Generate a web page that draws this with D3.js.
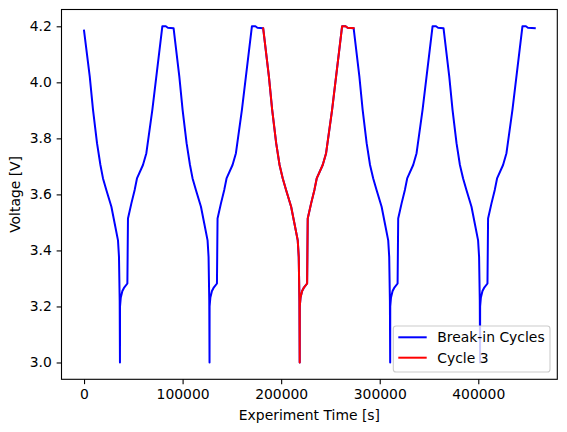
<!DOCTYPE html>
<html>
<head>
<meta charset="utf-8">
<script src="https://cdn.jsdelivr.net/npm/d3@7"></script>
<style>
  html, body { margin: 0; padding: 0; background: #fff; }
  svg { display: block; font-family: "DejaVu Sans", sans-serif; }
</style>
</head>
<body>
<div id="chart"></div>
<script>
// cycle data: time [s] and voltage [V]
const cycle1T = [0, 5780, 9120, 13170, 16620, 19250, 22700, 27760, 31100, 34450, 35460, 36170, 36450, 36520, 37300, 38900, 40500, 43970, 44580, 48030, 51370, 53700, 59780, 63220, 69300, 79440, 83000, 85000, 90880];
const cycle1V = [4.185, 4.021, 3.902, 3.783, 3.705, 3.657, 3.615, 3.556, 3.496, 3.436, 3.377, 3.222, 3.0, 3.200, 3.232, 3.255, 3.266, 3.282, 3.514, 3.568, 3.616, 3.657, 3.705, 3.747, 3.902, 4.2, 4.2, 4.195, 4.193];

const cycle2T = [90880, 96660, 100000, 104050, 107500, 110130, 113580, 118640, 121980, 125330, 126340, 127050, 127330, 127400, 128180, 129780, 131380, 134850, 135460, 138910, 142250, 144580, 150660, 154100, 160180, 170320, 173880, 175880, 181770];
const cycle2V = [4.193, 4.021, 3.902, 3.783, 3.705, 3.657, 3.615, 3.556, 3.496, 3.436, 3.377, 3.222, 3.0, 3.200, 3.232, 3.255, 3.266, 3.282, 3.514, 3.568, 3.616, 3.657, 3.705, 3.747, 3.902, 4.2, 4.2, 4.195, 4.193];

const cycle3T = [181770, 187550, 190890, 194940, 198390, 201620, 205070, 210130, 213470, 216820, 217830, 218540, 218820, 218890, 219670, 221270, 222870, 226340, 226950, 230400, 233740, 236070, 242150, 245590, 251670, 261810, 265370, 267370, 273560];
const cycle3V = [4.193, 4.021, 3.902, 3.783, 3.705, 3.657, 3.615, 3.556, 3.496, 3.436, 3.377, 3.222, 3.0, 3.200, 3.232, 3.255, 3.266, 3.282, 3.514, 3.568, 3.616, 3.657, 3.705, 3.747, 3.902, 4.2, 4.2, 4.195, 4.193];

const cycle4T = [273560, 279340, 282680, 286730, 290180, 293410, 296860, 301920, 305260, 308610, 309620, 310330, 310610, 310680, 311460, 313060, 314660, 318130, 318740, 322190, 325530, 327860, 333940, 337380, 343460, 353600, 357160, 359160, 364750];
const cycle4V = [4.193, 4.021, 3.902, 3.783, 3.705, 3.657, 3.615, 3.556, 3.496, 3.436, 3.377, 3.222, 3.0, 3.200, 3.232, 3.255, 3.266, 3.282, 3.514, 3.568, 3.616, 3.657, 3.705, 3.747, 3.902, 4.2, 4.2, 4.195, 4.193];

const cycle5T = [364750, 370530, 373870, 377920, 381370, 384600, 388050, 393110, 396450, 399800, 400810, 401520, 401800, 401870, 402650, 404250, 405850, 409320, 409930, 413380, 416720, 419050, 425130, 428570, 434650, 444790, 448350, 450350, 457300];
const cycle5V = [4.193, 4.021, 3.902, 3.783, 3.705, 3.657, 3.615, 3.556, 3.496, 3.436, 3.377, 3.222, 3.0, 3.200, 3.232, 3.255, 3.266, 3.282, 3.514, 3.568, 3.616, 3.657, 3.705, 3.747, 3.902, 4.2, 4.2, 4.195, 4.193];

const xTicks = [0, 100000, 200000, 300000, 400000];
const yTicks = [3.0, 3.2, 3.4, 3.6, 3.8, 4.0, 4.2];
const legendLabels = ['Break-in Cycles', 'Cycle 3'];
const seriesColors = ['#0000ff', '#ff0000'];

const W = 567, H = 432;
const plot = { left: 61.5, right: 557.3, top: 9.5, bottom: 379.3 };
const FS = 13.9;

const toPoints = (ts, vs) => ts.map((t, i) => ({ t, v: vs[i] }));
const breakIn = [
  [cycle1T, cycle1V], [cycle2T, cycle2V], [cycle3T, cycle3V],
  [cycle4T, cycle4V], [cycle5T, cycle5V]
].flatMap(([ts, vs]) => toPoints(ts, vs));
const cycle3 = toPoints(cycle3T, cycle3V);

const allT = breakIn.map(d => d.t), allV = breakIn.map(d => d.v);
const tMin = d3.min(allT), tMax = d3.max(allT);
const vMin = d3.min(allV), vMax = d3.max(allV);
const tPad = (tMax - tMin) * 0.05, vPad = (vMax - vMin) * 0.05;

const x = d3.scaleLinear().domain([tMin - tPad, tMax + tPad]).range([plot.left, plot.right]);
const y = d3.scaleLinear().domain([vMin - vPad, vMax + vPad]).range([plot.bottom, plot.top]);

const svg = d3.select('#chart').append('svg')
  .attr('width', W).attr('height', H)
  .attr('viewBox', `0 0 ${W} ${H}`);

svg.append('defs').append('clipPath').attr('id', 'clip')
  .append('rect')
  .attr('x', plot.left).attr('y', plot.top)
  .attr('width', plot.right - plot.left).attr('height', plot.bottom - plot.top);

const line = d3.line().x(d => x(d.t)).y(d => y(d.v));

const lines = svg.append('g').attr('clip-path', 'url(#clip)');
[breakIn, cycle3].forEach((data, i) => {
  lines.append('path')
    .datum(data)
    .attr('d', line)
    .attr('fill', 'none')
    .attr('stroke', seriesColors[i])
    .attr('stroke-width', 2)
    .attr('stroke-linejoin', 'round')
    .attr('stroke-linecap', 'square');
});

// axes
const xAxis = svg.append('g')
  .attr('transform', `translate(0,${plot.bottom})`)
  .call(d3.axisBottom(x).tickValues(xTicks).tickFormat(d3.format('d')).tickSize(4.86).tickPadding(4.86));
const yAxis = svg.append('g')
  .attr('transform', `translate(${plot.left},0)`)
  .call(d3.axisLeft(y).tickValues(yTicks).tickFormat(d3.format('.1f')).tickSize(4.86).tickPadding(4.86));

[xAxis, yAxis].forEach(a => {
  a.attr('font-size', FS).attr('font-family', 'DejaVu Sans');
  a.select('.domain').remove();
  a.selectAll('.tick line').attr('stroke', '#000').attr('stroke-width', 1.1);
  a.selectAll('.tick text').attr('fill', '#000');
});

svg.append('rect')
  .attr('x', plot.left).attr('y', plot.top)
  .attr('width', plot.right - plot.left).attr('height', plot.bottom - plot.top)
  .attr('fill', 'none').attr('stroke', '#000').attr('stroke-width', 1.1);

svg.append('text')
  .attr('x', (plot.left + plot.right) / 2).attr('y', 420)
  .attr('text-anchor', 'middle')
  .attr('font-size', FS)
  .text('Experiment Time [s]');

svg.append('text')
  .attr('transform', `translate(20,${(plot.top + plot.bottom) / 2}) rotate(-90)`)
  .attr('text-anchor', 'middle')
  .attr('font-size', FS)
  .text('Voltage [V]');

// legend, lower right
const legend = svg.append('g');
legend.append('rect')
  .attr('x', 393.3).attr('y', 326)
  .attr('width', 156.7).attr('height', 46)
  .attr('rx', 2.8)
  .attr('fill', '#fff').attr('fill-opacity', 0.8)
  .attr('stroke', '#cccccc').attr('stroke-width', 1.1);

legendLabels.forEach((label, i) => {
  const ly = 337.3 + i * 20.4;
  legend.append('line')
    .attr('x1', 398.3).attr('x2', 426.7)
    .attr('y1', ly).attr('y2', ly)
    .attr('stroke', seriesColors[i]).attr('stroke-width', 2);
  legend.append('text')
    .attr('x', 437.3).attr('y', ly)
    .attr('dy', '0.35em')
    .attr('font-size', FS)
    .text(label);
});
</script>
</body>
</html>
